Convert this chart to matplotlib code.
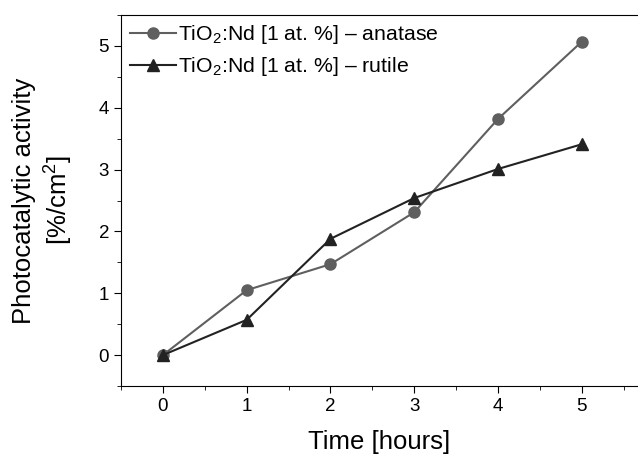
import numpy as np
import matplotlib.pyplot as plt
from matplotlib.ticker import MultipleLocator

plt.rcParams['font.family'] = ['Liberation Sans', 'DejaVu Sans']
plt.rcParams['mathtext.fontset'] = 'custom'
plt.rcParams['mathtext.rm'] = 'Liberation Sans'

hours = [0, 1, 2, 3, 4, 5]
anatase = [0.0, 1.05, 1.47, 2.31, 3.82, 5.07]
rutile = [0.0, 0.57, 1.88, 2.54, 3.01, 3.41]

fig = plt.figure(figsize=(6.38, 4.58), dpi=100)
ax = fig.add_axes([121 / 638, 72 / 458, 1 - 121 / 638, (386 - 15) / 458])

ax.plot(hours, anatase, color='#5f5f5f', marker='o', markersize=8, lw=1.5,
        label=r'TiO$_2$:Nd [1 at. %] – anatase')
ax.plot(hours, rutile, color='#222222', marker='^', markersize=9, lw=1.5,
        label=r'TiO$_2$:Nd [1 at. %] – rutile')

ax.set_xlim(-0.5, (638 - 164) / 83.6)
ax.set_ylim(-0.5, 5.5)
ax.xaxis.set_major_locator(MultipleLocator(1))
ax.xaxis.set_minor_locator(MultipleLocator(0.5))
ax.yaxis.set_major_locator(MultipleLocator(1))
ax.yaxis.set_minor_locator(MultipleLocator(0.5))
ax.tick_params(which='major', direction='out', length=5, labelsize=13.5)
ax.tick_params(which='minor', direction='out', length=3)
ax.spines['right'].set_visible(False)

ax.set_xlabel('Time [hours]', fontsize=18.5, labelpad=11)
ax.set_ylabel('Photocatalytic activity\n[%/cm$^2$]', fontsize=18.5, labelpad=18)

ax.legend(loc='upper left', frameon=False, fontsize=15.3, handlelength=2.2,
          borderaxespad=0.1, borderpad=0.3, handletextpad=0.1, labelspacing=0.4)

fig.savefig('out.png', dpi=100)
